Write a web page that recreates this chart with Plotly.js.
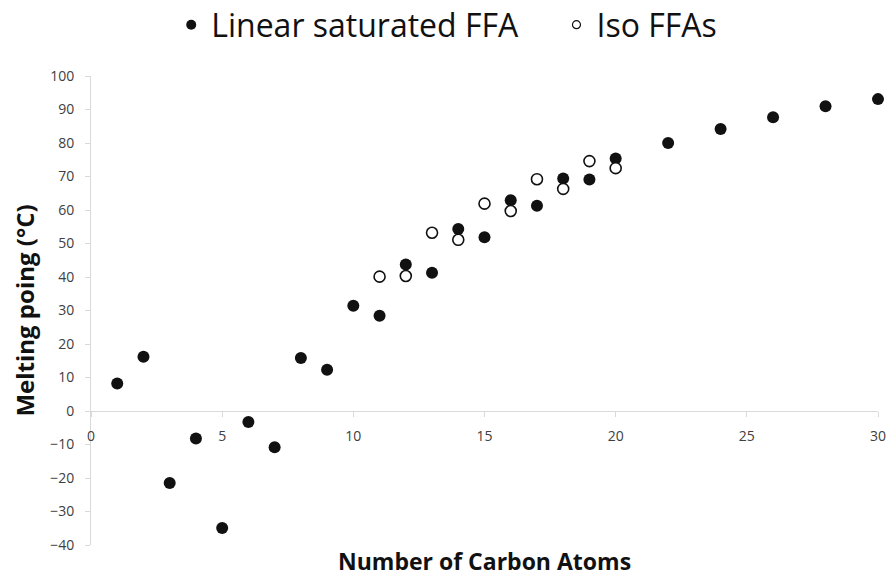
<!DOCTYPE html>
<html>
<head>
<meta charset="utf-8">
<script src="https://cdn.plot.ly/plotly-3.0.1.min.js"></script>
<style>html,body{margin:0;padding:0;background:#fff}#chart{width:890px;height:578px}</style>
</head>
<body>
<div id="chart"></div>
<script>
// Data
const linearCarbons = [1, 2, 3, 4, 5, 6, 7, 8, 9, 10, 11, 12, 13, 14, 15, 16, 17, 18, 19, 20, 22, 24, 26, 28, 30];
const linearMelting = [8.2, 16.2, -21.5, -8.2, -34.9, -3.3, -10.8, 15.8, 12.3, 31.4, 28.4, 43.7, 41.3, 54.3, 51.9, 62.9, 61.3, 69.4, 69.1, 75.4, 80.0, 84.2, 87.7, 91.0, 93.1];
const isoCarbons = [11, 12, 13, 14, 15, 16, 17, 18, 19, 20];
const isoMelting = [40.1, 40.3, 53.2, 51.1, 61.9, 59.7, 69.2, 66.3, 74.6, 72.5];
const seriesNames = ["Linear saturated FFA", "Iso FFAs"];
const xTitle = "Number of Carbon Atoms";
const yTitle = "Melting poing (°C)";

const axisGray = "#d9d9d9";
const tickFont = {family: "Open Sans, sans-serif", size: 14, color: "#404040"};
const pad = "\u00a0\u00a0\u00a0\u00a0";

const traces = [
  {x: linearCarbons, y: linearMelting, mode: "markers", type: "scatter", name: seriesNames[0], showlegend: false,
   marker: {symbol: "circle", size: 12, color: "#111111", line: {width: 0}}, cliponaxis: false},
  {x: isoCarbons, y: isoMelting, mode: "markers", type: "scatter", name: seriesNames[1], showlegend: false,
   marker: {symbol: "circle", size: 11, color: "#ffffff", line: {width: 1.6, color: "#111111"}}, cliponaxis: false},
  // legend-only entries (smaller legend symbols like the reference)
  {x: [null], y: [null], mode: "markers", type: "scatter", name: seriesNames[0] + pad,
   marker: {symbol: "circle", size: 10, color: "#111111"}},
  {x: [null], y: [null], mode: "markers", type: "scatter", name: seriesNames[1],
   marker: {symbol: "circle", size: 8, color: "#ffffff", line: {width: 1.2, color: "#111111"}}}
];

const layout = {
  width: 890, height: 578,
  margin: {l: 91, r: 12, t: 76, b: 33, autoexpand: false},
  paper_bgcolor: "#ffffff", plot_bgcolor: "#ffffff",
  showlegend: true,
  legend: {orientation: "h", x: 0.452, xanchor: "center", y: 1.109, yanchor: "middle",
           font: {family: "Open Sans, sans-serif", size: 32, color: "#111111"},
           itemwidth: 30, tracegroupgap: 0, bgcolor: "rgba(0,0,0,0)"},
  xaxis: {range: [0, 30], dtick: 5, tick0: 0, showgrid: false, zeroline: false,
          showline: true, linecolor: axisGray, linewidth: 1,
          ticks: "outside", ticklen: 5, tickcolor: axisGray, tickwidth: 1,
          tickfont: tickFont, anchor: "free", position: 40 / 140, ticklabelstandoff: 7},
  yaxis: {range: [-40, 100], dtick: 10, tick0: 0, showgrid: false, zeroline: false,
          showline: true, linecolor: axisGray, linewidth: 1,
          ticks: "outside", ticklen: 5, tickcolor: axisGray, tickwidth: 1,
          tickfont: tickFont, ticklabelstandoff: 8},
  annotations: [
    {text: "<b>" + xTitle + "</b>", xref: "paper", yref: "paper", x: 0.5, y: -0.034,
     xanchor: "center", yanchor: "middle", showarrow: false,
     font: {family: "Open Sans, sans-serif", size: 23, color: "#111111"}},
    {text: "<b>" + yTitle + "</b>", xref: "paper", yref: "paper", x: -0.085, y: 0.5,
     xanchor: "center", yanchor: "middle", showarrow: false, textangle: -90,
     font: {family: "Open Sans, sans-serif", size: 24, color: "#111111"}}
  ]
};

Plotly.newPlot("chart", traces, layout, {displayModeBar: false, staticPlot: true});
</script>
</body>
</html>
